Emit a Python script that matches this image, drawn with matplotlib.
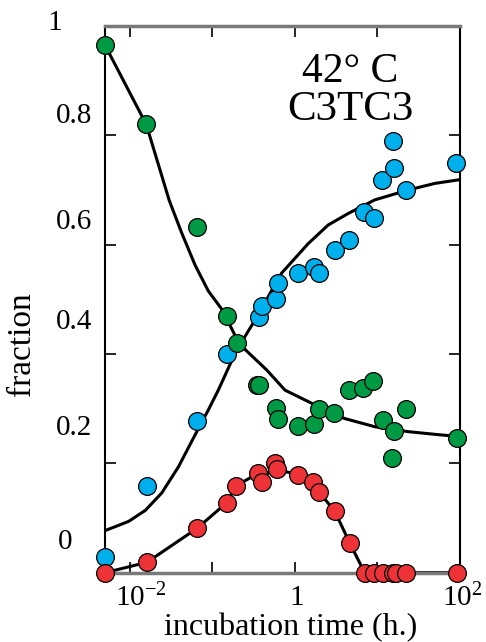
import matplotlib
matplotlib.use('Agg')
import matplotlib.pyplot as plt

plt.rcParams['font.family'] = ['Liberation Serif', 'DejaVu Serif']
plt.rcParams['mathtext.fontset'] = 'custom'
plt.rcParams['mathtext.rm'] = 'Liberation Serif'

# measured fractions vs incubation time (h)
green_t = [0.005, 0.0158, 0.065, 0.152, 0.197, 0.345, 0.365, 0.589, 0.617, 1.10,
           1.70, 1.97, 2.99, 4.54, 6.70, 8.85, 11.7, 15.2, 15.9, 21.9, 92]
green_y = [0.965, 0.820, 0.633, 0.470, 0.420, 0.343, 0.343, 0.301, 0.281, 0.268,
           0.272, 0.299, 0.292, 0.335, 0.337, 0.351, 0.279, 0.209, 0.259, 0.299, 0.246]

blue_t = [0.005, 0.0161, 0.065, 0.149, 0.367, 0.395, 0.59, 0.63, 1.10, 1.71,
          1.97, 3.05, 4.54, 6.83, 9.02, 11.5, 15.4, 15.7, 21.9, 90]
blue_y = [0.029, 0.159, 0.278, 0.400, 0.468, 0.488, 0.500, 0.529, 0.549, 0.560,
          0.549, 0.590, 0.609, 0.660, 0.648, 0.718, 0.790, 0.740, 0.700, 0.749]

red_t = [0.005, 0.0161, 0.065, 0.149, 0.194, 0.36, 0.395, 0.573, 0.60, 1.10,
         1.67, 1.95, 3.05, 4.62, 7.0, 9.1, 11.7, 15.4, 17.0, 22.4, 93]
red_y = [0.0, 0.019, 0.081, 0.128, 0.159, 0.182, 0.165, 0.201, 0.189, 0.179,
         0.166, 0.148, 0.112, 0.054, 0.0, 0.0, 0.0, 0.0, 0.0, 0.0, 0.0]

# fitted curves
gfit_t = [0.005, 0.0158, 0.030, 0.0426, 0.062, 0.0895, 0.13, 0.152, 0.20, 0.25,
          0.454, 0.757, 1.59, 4.0, 9.3, 23.5, 59, 100]
gfit_y = [0.965, 0.820, 0.681, 0.621, 0.562, 0.515, 0.482, 0.462, 0.426, 0.408,
          0.371, 0.334, 0.310, 0.282, 0.267, 0.258, 0.252, 0.249]

bfit_t = [0.005, 0.0066, 0.0097, 0.0154, 0.0244, 0.0389, 0.0617, 0.0895, 0.118,
          0.188, 0.248, 0.328, 0.69, 1.45, 2.53, 4.41, 9.3, 23.5, 49.3, 100]
bfit_y = [0.077, 0.084, 0.094, 0.114, 0.146, 0.194, 0.252, 0.298, 0.334,
          0.401, 0.432, 0.462, 0.548, 0.602, 0.636, 0.657, 0.682, 0.700, 0.712, 0.719]

fig = plt.figure(figsize=(4.86, 6.42), dpi=100)
ax = fig.add_axes([105 / 486, 1 - 572.7 / 642, 355 / 486, 546.7 / 642])
ax.set_xscale('log')
ax.set_xlim(0.005, 100)
ax.set_ylim(0, 1)

ax.plot(gfit_t, gfit_y, color='black', lw=2.2, zorder=2)
ax.plot(bfit_t, bfit_y, color='black', lw=2.2, zorder=2)
ax.plot(red_t, red_y, color='black', lw=2.2, zorder=2)

mk = dict(marker='o', ms=12.8, mec='black', mew=0.9, ls='none', clip_on=False)
ax.plot(blue_t, blue_y, mfc='#00b0ec', zorder=3, **mk)
ax.plot(green_t, green_y, mfc='#009a44', zorder=4, **mk)
ax.plot(red_t, red_y, mfc='#ee3338', zorder=5, **mk)

# spines
for s in ['left', 'right']:
    ax.spines[s].set_color('black')
    ax.spines[s].set_linewidth(1.5)
for s in ['top', 'bottom']:
    ax.spines[s].set_color('#7a7a7a')
    ax.spines[s].set_linewidth(2.5)

ax.set_xticks([0.01, 0.1, 1, 10, 100])
ax.set_yticks([0.2, 0.4, 0.6, 0.8])
ax.minorticks_off()
ax.tick_params(direction='in', length=8, width=1.2, color='black',
               top=True, right=True, labelbottom=False, labelleft=False)

# tick labels (placed as in the original figure)
ylab = ['1', '0.8', '0.6', '0.4', '0.2', '0']
ylab_y = [1.005, 0.835, 0.642, 0.458, 0.264, 0.056]
ylab_x = [62, 92, 92, 92, 92, 72]
for lab, yy, xx in zip(ylab, ylab_y, ylab_x):
    ax.text((xx - 105) / 355, yy, lab, transform=ax.get_yaxis_transform(),
            ha='right', va='center', fontsize=21)

xlab = [r'$\mathregular{10^{-2}}$', '1', r'$\mathregular{10^{2}}$']
xlab_x = [0.101, 0.541, 1.006]
for lab, xx in zip(xlab, xlab_x):
    ax.text(xx, -0.046, lab, transform=ax.transAxes, ha='center', va='center', fontsize=21)

fig.text(0.597, 0.022, 'incubation time (h.)', ha='center', va='center', fontsize=23)
fig.text(0.045, 0.464, 'fraction', ha='center', va='center', rotation=90, fontsize=24)

ax.text(0.69, 0.916, '42° C', transform=ax.transAxes, ha='center', va='center', fontsize=30)
ax.text(0.69, 0.846, 'C3TC3', transform=ax.transAxes, ha='center', va='center', fontsize=31)

fig.savefig('out.png', dpi=100)
